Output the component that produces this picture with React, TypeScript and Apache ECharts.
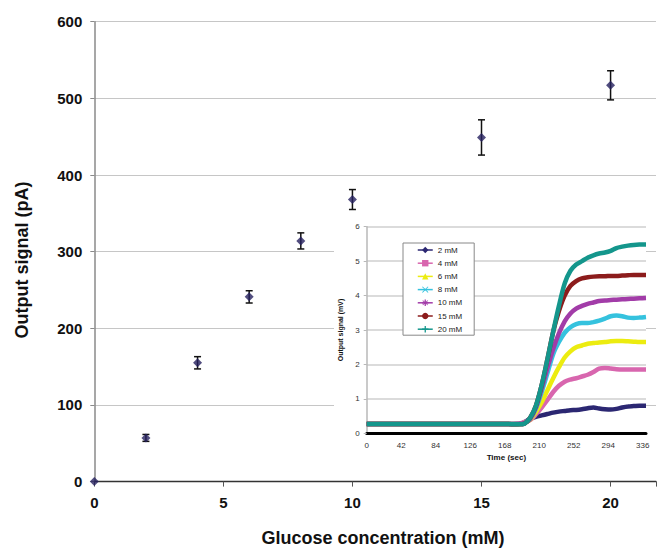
import React, { useEffect, useRef } from 'react';
import * as echarts from 'echarts';

// Main chart data
const concentrations = [0, 2, 4, 6, 8, 10, 15, 20];
const signalPA = [0, 57, 155, 241, 314, 368, 449, 517];
const errorPA = [0, 4.5, 8, 8, 10.5, 13, 23, 19];

// Inset data (time in seconds, output signal in mV)
const timeSec = [0, 42, 84, 126, 168, 185, 192, 199, 206, 213, 220, 227, 234, 241, 248, 255, 262, 269, 276, 283, 290, 297, 304, 311, 318, 325, 332, 340];
const mV2 = [0.27, 0.27, 0.27, 0.27, 0.27, 0.27, 0.32, 0.42, 0.48, 0.52, 0.56, 0.6, 0.63, 0.65, 0.67, 0.68, 0.7, 0.73, 0.75, 0.72, 0.7, 0.69, 0.71, 0.75, 0.78, 0.79, 0.8, 0.8];
const mV4 = [0.27, 0.27, 0.27, 0.27, 0.27, 0.28, 0.33, 0.38, 0.55, 0.75, 0.97, 1.2, 1.38, 1.5, 1.56, 1.6, 1.65, 1.7, 1.78, 1.88, 1.9, 1.88, 1.86, 1.85, 1.85, 1.85, 1.85, 1.85];
const mV6 = [0.27, 0.27, 0.27, 0.27, 0.27, 0.27, 0.3, 0.4, 0.62, 0.9, 1.25, 1.6, 1.92, 2.2, 2.38, 2.5, 2.55, 2.6, 2.62, 2.64, 2.65, 2.67, 2.68, 2.68, 2.67, 2.66, 2.65, 2.65];
const mV8 = [0.27, 0.27, 0.27, 0.27, 0.27, 0.27, 0.3, 0.42, 0.72, 1.2, 1.75, 2.3, 2.65, 2.92, 3.08, 3.17, 3.2, 3.2, 3.23, 3.27, 3.33, 3.4, 3.42, 3.4, 3.36, 3.35, 3.36, 3.38];
const mV10 = [0.27, 0.27, 0.27, 0.27, 0.27, 0.28, 0.3, 0.42, 0.75, 1.3, 1.9, 2.45, 2.9, 3.25, 3.48, 3.62, 3.7, 3.76, 3.8, 3.84, 3.86, 3.87, 3.88, 3.89, 3.9, 3.91, 3.92, 3.93];
const mV15 = [0.27, 0.27, 0.27, 0.27, 0.27, 0.26, 0.28, 0.45, 0.8, 1.4, 2.15, 2.95, 3.55, 4.0, 4.28, 4.42, 4.5, 4.53, 4.55, 4.56, 4.56, 4.57, 4.57, 4.58, 4.59, 4.6, 4.6, 4.6];
const mV20 = [0.27, 0.27, 0.27, 0.27, 0.27, 0.26, 0.28, 0.45, 0.8, 1.4, 2.15, 2.95, 3.7, 4.35, 4.72, 4.9, 5.0, 5.1, 5.17, 5.22, 5.25, 5.3, 5.38, 5.42, 5.45, 5.47, 5.48, 5.48];

const insetNames = ['2 mM', '4 mM', '6 mM', '8 mM', '10 mM', '15 mM', '20 mM'];
const insetValues = [mV2, mV4, mV6, mV8, mV10, mV15, mV20];
const insetColors = ['#2b2772', '#d866ae', '#ecec10', '#35c2de', '#a23ca8', '#8c1c1c', '#14968c'];
const insetSymbols = [
  'diamond',
  'rect',
  'triangle',
  'path://M1,0L5,4L9,0L10,1L6,5L10,9L9,10L5,6L1,10L0,9L4,5L0,1Z',
  'path://M4,0H6V3.5L8.5,1L9.5,2L6.5,4H10V6H6.5L9.5,8L8.5,9L6,6.5V10H4V6.5L1.5,9L0.5,8L3.5,6H0V4H3.5L0.5,2L1.5,1L4,3.5Z',
  'circle',
  'path://M4,0H6V4H10V6H6V10H4V6H0V4H4Z',
];

const FONT = "'Liberation Sans', Arial, sans-serif";

export default function App() {
  const ref = useRef<HTMLDivElement>(null);

  useEffect(() => {
    if (!ref.current) return;
    const chart = echarts.init(ref.current, undefined, { renderer: 'svg' });

    const errData = concentrations
      .map((c, i) => [c, signalPA[i] - errorPA[i], signalPA[i] + errorPA[i]])
      .filter((_, i) => errorPA[i] > 0);

    const insetSeries = insetNames.map((name, k) => ({
      name,
      type: 'line',
      xAxisIndex: 1,
      yAxisIndex: 1,
      data: timeSec.map((t, i) => [t, insetValues[k][i]]),
      smooth: 0.3,
      symbol: insetSymbols[k],
      symbolSize: 6,
      showSymbol: false,
      lineStyle: { width: 4.5, color: insetColors[k] },
      itemStyle: { color: insetColors[k] },
      z: 3,
    }));

    chart.setOption({
      animation: false,
      textStyle: { fontFamily: FONT },
      grid: [
        { left: 94.3, top: 21.7, right: 0, bottom: 67.4 },
        { left: 366.7, top: 226.7, right: 13, bottom: 115.7 },
      ],
      xAxis: [
        {
          type: 'value',
          gridIndex: 0,
          min: 0,
          max: 21.76,
          interval: 5,
          axisLine: { lineStyle: { color: '#333', width: 1.3 } },
          axisTick: { show: true, length: 5, lineStyle: { color: '#555', width: 1 } },
          axisLabel: {
            margin: 13,
            fontSize: 15,
            fontWeight: 'bold',
            color: '#111',
            fontFamily: FONT,
            formatter: (v: number) => (v % 5 === 0 ? String(v) : ''),
          },
          splitLine: { show: false },
        },
        {
          type: 'value',
          gridIndex: 1,
          min: 0,
          max: 340,
          interval: 42,
          z: 2,
          name: 'Time (sec)',
          nameLocation: 'middle',
          nameGap: 20,
          nameTextStyle: { fontSize: 8, fontWeight: 'bold', color: '#111', fontFamily: FONT },
          axisLine: { onZero: false, lineStyle: { color: '#000', width: 3 } },
          axisTick: { show: false },
          axisLabel: {
            margin: 8,
            fontSize: 8,
            color: '#333',
            fontFamily: FONT,
            formatter: (v: number) => (v % 42 === 0 ? String(v) : ''),
          },
          splitLine: { show: false },
        },
      ],
      yAxis: [
        {
          type: 'value',
          gridIndex: 0,
          min: 0,
          max: 600,
          interval: 100,
          axisLine: { show: true, lineStyle: { color: '#8a8a8a', width: 1.5 } },
          axisTick: { show: true, length: 4, lineStyle: { color: '#8a8a8a', width: 1 } },
          axisLabel: {
            margin: 12,
            fontSize: 15,
            fontWeight: 'bold',
            color: '#111',
            fontFamily: FONT,
          },
          splitLine: { show: true, lineStyle: { color: '#c6c6c6', width: 1.2 } },
        },
        {
          type: 'value',
          gridIndex: 1,
          min: 0,
          max: 6,
          interval: 1,
          z: 2,
          name: 'Output signal (mV)',
          nameLocation: 'middle',
          nameGap: 23,
          nameTextStyle: { fontSize: 7, fontWeight: 'bold', color: '#111', fontFamily: FONT },
          axisLine: { show: true, lineStyle: { color: '#b8b8b8', width: 1.5 } },
          axisTick: { show: true, length: 3, lineStyle: { color: '#b8b8b8', width: 1 } },
          axisLabel: { margin: 7, fontSize: 8, color: '#333', fontFamily: FONT },
          splitLine: { show: true, lineStyle: { color: '#cfcfcf', width: 1.5 } },
        },
      ],
      legend: {
        data: insetNames,
        orient: 'vertical',
        left: 403,
        top: 243,
        padding: [3, 12, 2, 14],
        itemWidth: 15,
        itemHeight: 8,
        itemGap: 5.2,
        backgroundColor: '#fff',
        borderColor: '#888',
        borderWidth: 1,
        borderRadius: 0,
        lineStyle: { width: 1.5 },
        textStyle: { fontSize: 8, color: '#222', fontFamily: FONT },
        z: 6,
      },
      graphic: [
        {
          type: 'rect',
          z: 1,
          shape: { x: 334, y: 214, width: 312, height: 254 },
          style: { fill: '#ffffff' },
        },
        {
          type: 'text',
          x: 22,
          y: 260,
          rotation: Math.PI / 2,
          z: 10,
          style: {
            text: 'Output signal (pA)',
            fontSize: 18,
            fontWeight: 'bold',
            fontFamily: FONT,
            fill: '#111',
            align: 'center',
            verticalAlign: 'middle',
          },
        },
        {
          type: 'text',
          x: 383,
          y: 538,
          z: 10,
          style: {
            text: 'Glucose concentration (mM)',
            fontSize: 18,
            fontWeight: 'bold',
            fontFamily: FONT,
            fill: '#111',
            align: 'center',
            verticalAlign: 'middle',
          },
        },
      ],
      series: [
        {
          type: 'custom',
          xAxisIndex: 0,
          yAxisIndex: 0,
          z: 5,
          clip: false,
          data: errData,
          encode: { x: 0, y: [1, 2] },
          renderItem: (params: any, api: any) => {
            const x = api.value(0);
            const lo = api.coord([x, api.value(1)]);
            const hi = api.coord([x, api.value(2)]);
            const w = 3.5;
            const st = { stroke: '#111', lineWidth: 1.5 };
            return {
              type: 'group',
              children: [
                { type: 'line', shape: { x1: lo[0], y1: lo[1], x2: hi[0], y2: hi[1] }, style: st },
                { type: 'line', shape: { x1: lo[0] - w, y1: lo[1], x2: lo[0] + w, y2: lo[1] }, style: st },
                { type: 'line', shape: { x1: hi[0] - w, y1: hi[1], x2: hi[0] + w, y2: hi[1] }, style: st },
              ],
            };
          },
        },
        {
          type: 'scatter',
          xAxisIndex: 0,
          yAxisIndex: 0,
          z: 6,
          clip: false,
          symbol: 'diamond',
          symbolSize: 9,
          itemStyle: { color: '#25205f' },
          data: concentrations.map((c, i) => [c, signalPA[i]]),
        },
        ...insetSeries,
      ],
    });

    return () => chart.dispose();
  }, []);

  return (
    <div
      ref={ref}
      style={{ position: 'fixed', left: 0, top: 0, width: 659, height: 549, background: '#fff' }}
    />
  );
}
